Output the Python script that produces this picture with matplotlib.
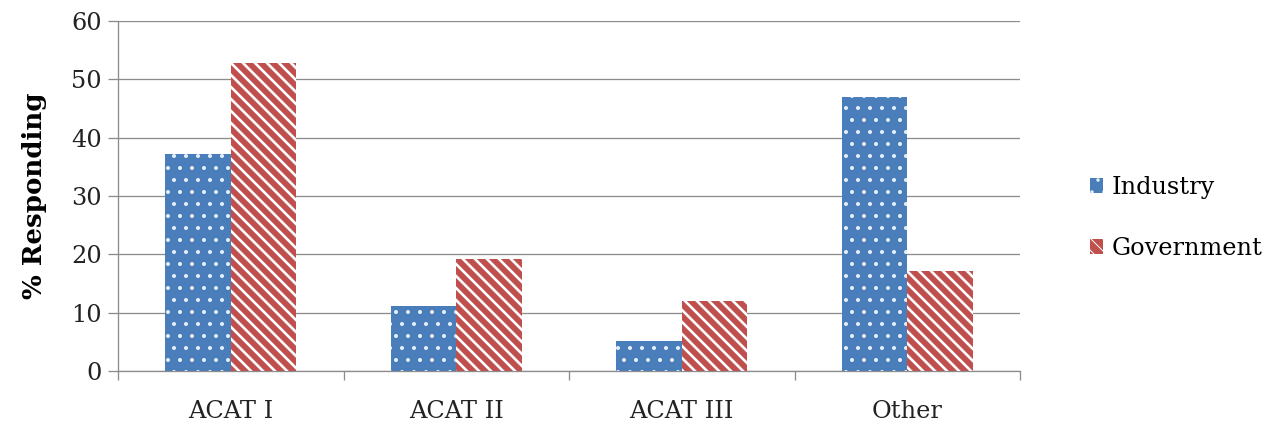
import matplotlib
matplotlib.use("Agg")
import matplotlib.pyplot as plt
import numpy as np
from matplotlib.patches import Patch

categories = ["ACAT I", "ACAT II", "ACAT III", "Other"]
industry = [37.2, 11.1, 5.1, 47.0]
government = [52.8, 19.2, 12.0, 17.1]
yticks = [0, 10, 20, 30, 40, 50, 60]

plt.rcParams['font.family'] = ['DejaVu Serif']

DPI = 72
fig = plt.figure(figsize=(1269 / DPI, 424 / DPI), dpi=DPI)
ax = fig.add_axes([118 / 1269, 1 - 371 / 424, (1020 - 118) / 1269, (371 - 21) / 424])

blue = '#4a7ebb'
red = '#c0504d'
x = np.arange(len(categories))
w = 0.29
with plt.rc_context({'hatch.linewidth': 1.6}):
    ax.bar(x - w / 2, industry, w, color=blue, edgecolor='#e6eef8', linewidth=0, hatch='.', zorder=3)
    h1 = Patch(facecolor=blue, edgecolor='#e6eef8', hatch='.', linewidth=0, label='Industry')
with plt.rc_context({'hatch.linewidth': 2.6}):
    ax.bar(x + w / 2, government, w, color=red, edgecolor='white', linewidth=0, hatch='\\\\', zorder=3)
    h2 = Patch(facecolor=red, edgecolor='white', hatch='\\\\', linewidth=0, label='Government')

ax.set_xlim(-0.5, len(categories) - 0.5)
ax.set_ylim(0, 60)
ax.set_yticks(yticks)
ax.set_yticklabels([str(v) for v in yticks], fontsize=24, color='#222222')
ax.yaxis.grid(True, color='#8c8c8c', linewidth=1.3, zorder=0)
ax.set_axisbelow(True)

ax.set_xticks(x)
ax.set_xticklabels(categories, fontsize=24, color='#222222')
ax.set_xticks(np.arange(-0.5, len(categories)), minor=True)
ax.tick_params(axis='x', which='major', length=0, pad=29)
ax.tick_params(axis='x', which='minor', length=9, width=1.3, color='#8c8c8c')
ax.tick_params(axis='y', length=10, width=1.3, color='#8c8c8c', pad=6)

for s in ['top', 'right']:
    ax.spines[s].set_visible(False)
for s in ['left', 'bottom']:
    ax.spines[s].set_color('#8c8c8c')
    ax.spines[s].set_linewidth(1.3)

ax.set_ylabel('% Responding', fontsize=26, fontweight='bold', labelpad=24)

fig.legend(handles=[h1, h2], loc='center left', bbox_to_anchor=(1068 / 1269, 1 - 218 / 424),
           frameon=False, fontsize=24, handlelength=0.55, handleheight=0.55,
           handletextpad=0.35, labelspacing=1.6)

fig.savefig('out.png', dpi=DPI)
